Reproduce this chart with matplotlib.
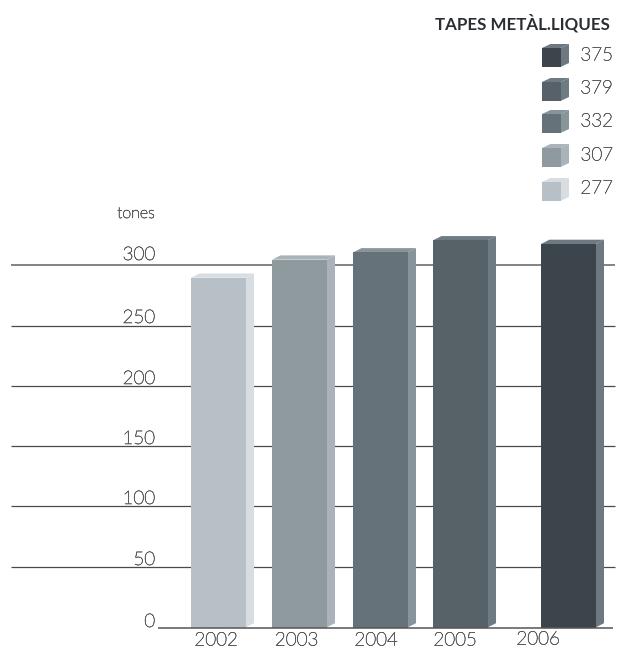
import matplotlib
matplotlib.use('Agg')
import matplotlib.pyplot as plt
import matplotlib.patches as patches
import matplotlib.patheffects as pe

years = ['2002', '2003', '2004', '2005', '2006']
values = [290, 305, 311, 321, 318]
legend_labels = ['375', '379', '332', '307', '277']
y_ticks = [0, 50, 100, 150, 200, 250, 300]
title = 'TAPES METÀL.LIQUES'
unit = 'tones'

# colours go from 2002 to 2006
front_colors = ['#b8c0c7', '#8f9a9f', '#667279', '#566268', '#3c454c']
side_colors = ['#d8dde1', '#a9b3b9', '#87949a', '#6f7b82', '#6d7880']

# pixel layout of the picture
W, H = 625, 648
bar_left = [191, 272, 353, 433, 541]
bar_w = 54.5
year_x = [216, 296.5, 376, 455, 538]
year_y = [640.5, 640.5, 640.5, 640.5, 639.5]
y0_px = 627.5
px_per_unit = 1.206
label_y_px = [622, 560, 499, 439, 379, 318, 255]

plt.rcParams['font.family'] = ['Lato', 'DejaVu Sans']
text_color = '#5c5c5c'

fig = plt.figure(figsize=(W / 100, H / 100), dpi=100)

# chart axes: y is in tones, x is in pixels
ax = fig.add_axes([0, 0, 1, 1])
ax.set_xlim(0, W)
ax.set_ylim(-(H - y0_px) / px_per_unit, y0_px / px_per_unit)
ax.axis('off')

# overlay in pixels for the texts and the legend
ov = fig.add_axes([0, 0, 1, 1])
ov.set_xlim(0, W)
ov.set_ylim(H, 0)
ov.axis('off')
ov.patch.set_alpha(0)

# the light Lato comes out as a hairline, so thicken it a little
thin = [pe.withStroke(linewidth=0.4, foreground=text_color)]


def label(x, y, s, ha, size):
    ov.text(x, y, s, ha=ha, va='center', fontsize=size, fontweight='light', color=text_color, path_effects=thin)


def draw_box(a, x, bottom, top, w, dx, dy, front, side):
    # top and side faces first, then the front on top
    a.add_patch(patches.Polygon([(x, top), (x + dx, top + dy), (x + w + dx, top + dy), (x + w, top)],
                                facecolor=side, edgecolor='none', zorder=3))
    a.add_patch(patches.Polygon([(x + w, bottom), (x + w + dx, bottom + dy), (x + w + dx, top + dy), (x + w, top)],
                                facecolor=side, edgecolor='none', zorder=3))
    a.add_patch(patches.Rectangle((x, bottom), w, top - bottom, facecolor=front, edgecolor='none', zorder=4))


for t in y_ticks[1:]:
    color = '#7a7a7a' if t == 300 else '#4a4a4a'
    lw = 1.3 if t == 300 else 0.9
    ax.plot([11, 615], [t + 0.4, t + 0.4], color=color, lw=lw, zorder=1, solid_capstyle='butt')
ax.plot([158, 613], [0, 0], color='#555555', lw=1.1, zorder=5, solid_capstyle='butt')

dy_units = 4.3 / px_per_unit
for i in range(len(years)):
    draw_box(ax, bar_left[i], 0, values[i], bar_w, 8.5, dy_units, front_colors[i], side_colors[i])
    label(year_x[i], year_y[i], years[i], 'center', 13.5)

for t, py in zip(y_ticks, label_y_px):
    label(155, py, str(t), 'right', 13.5)
label(155, 214, unit, 'right', 11.5)

ov.text(610, 23, title, ha='right', va='center', fontsize=12.2, fontweight='bold', color='#2a2e33')

# legend, darkest first
legend_top = [48, 82, 114, 148, 182]
legend_text_y = [55.5, 88.5, 121.5, 155.5, 188.5]
for i in range(len(legend_labels)):
    j = len(legend_labels) - 1 - i
    draw_box(ov, 542, legend_top[i] + 19, legend_top[i], 18.5, 8.5, -4, front_colors[j], side_colors[j])
    label(613, legend_text_y[i], legend_labels[i], 'right', 13.5)

fig.savefig('out.png', dpi=100, facecolor='white')
